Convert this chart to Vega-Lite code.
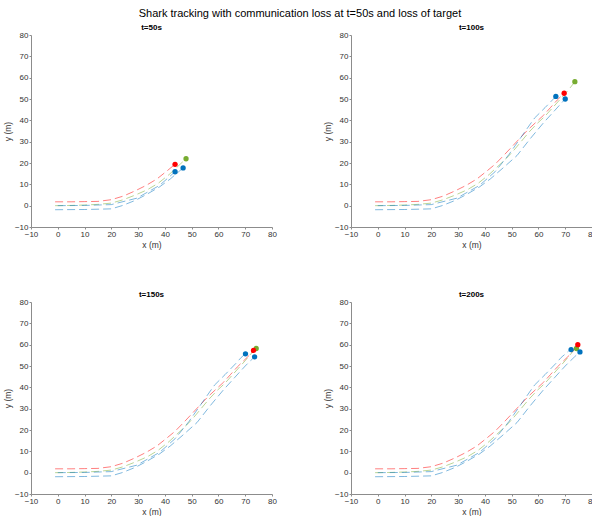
{
  "$schema": "https://vega.github.io/schema/vega-lite/v6.json",
  "padding": {"left": 3, "top": 8, "right": 0, "bottom": 0},
  "title": {
    "text": "Shark tracking with communication loss at t=50s and loss of target",
    "fontSize": 11,
    "fontWeight": "normal",
    "font": "Liberation Sans",
    "color": "#000000",
    "anchor": "middle",
    "frame": "bounds",
    "offset": 5
  },
  "datasets": {
    "tracks": [
      {"series": "target", "t": 0, "x": -1, "y": 0.0},
      {"series": "target", "t": 5, "x": 5, "y": 0.1},
      {"series": "target", "t": 10, "x": 10, "y": 0.3},
      {"series": "target", "t": 15, "x": 15, "y": 0.6},
      {"series": "target", "t": 20, "x": 20, "y": 1.2},
      {"series": "target", "t": 25, "x": 24.5, "y": 2.8},
      {"series": "target", "t": 30, "x": 29, "y": 5.0},
      {"series": "target", "t": 35, "x": 33.5, "y": 7.5},
      {"series": "target", "t": 40, "x": 37.5, "y": 10.5},
      {"series": "target", "t": 45, "x": 41.5, "y": 14.5},
      {"series": "target", "t": 50, "x": 47.9, "y": 22.0},
      {"series": "target", "t": 55, "x": 50.5, "y": 25.5},
      {"series": "target", "t": 60, "x": 53.5, "y": 30.0},
      {"series": "target", "t": 65, "x": 56.5, "y": 34.5},
      {"series": "target", "t": 70, "x": 59.5, "y": 38.5},
      {"series": "target", "t": 75, "x": 62.5, "y": 42.0},
      {"series": "target", "t": 80, "x": 65, "y": 45.5},
      {"series": "target", "t": 85, "x": 67.5, "y": 49.0},
      {"series": "target", "t": 90, "x": 70, "y": 52.5},
      {"series": "target", "t": 95, "x": 72, "y": 55.5},
      {"series": "target", "t": 100, "x": 73.6, "y": 58.1},
      {"series": "target", "t": 150, "x": 74.1, "y": 58.2},
      {"series": "target", "t": 200, "x": 74.2, "y": 58.2},

      {"series": "estimate", "t": 0, "x": -1, "y": 1.8},
      {"series": "estimate", "t": 5, "x": 5, "y": 1.8},
      {"series": "estimate", "t": 10, "x": 10, "y": 1.9},
      {"series": "estimate", "t": 15, "x": 15, "y": 2.0},
      {"series": "estimate", "t": 20, "x": 20, "y": 2.8},
      {"series": "estimate", "t": 25, "x": 24.5, "y": 4.5},
      {"series": "estimate", "t": 30, "x": 29, "y": 7.0},
      {"series": "estimate", "t": 35, "x": 33, "y": 9.5},
      {"series": "estimate", "t": 40, "x": 37, "y": 12.5},
      {"series": "estimate", "t": 45, "x": 40.5, "y": 16.0},
      {"series": "estimate", "t": 50, "x": 43.8, "y": 19.4},
      {"series": "estimate", "t": 55, "x": 47, "y": 23.5},
      {"series": "estimate", "t": 60, "x": 50, "y": 27.5},
      {"series": "estimate", "t": 65, "x": 53, "y": 31.5},
      {"series": "estimate", "t": 70, "x": 56, "y": 35.5},
      {"series": "estimate", "t": 75, "x": 59, "y": 39.0},
      {"series": "estimate", "t": 80, "x": 62, "y": 42.5},
      {"series": "estimate", "t": 85, "x": 64.5, "y": 46.0},
      {"series": "estimate", "t": 90, "x": 67, "y": 49.5},
      {"series": "estimate", "t": 100, "x": 69.6, "y": 52.7},
      {"series": "estimate", "t": 125, "x": 71.5, "y": 55.0},
      {"series": "estimate", "t": 150, "x": 73.1, "y": 57.3},
      {"series": "estimate", "t": 175, "x": 74, "y": 59.0},
      {"series": "estimate", "t": 200, "x": 74.7, "y": 60.0},

      {"series": "tracker1", "t": 0, "x": 0, "y": 0.0},
      {"series": "tracker1", "t": 10, "x": 10, "y": 0.1},
      {"series": "tracker1", "t": 20, "x": 20, "y": 0.5},
      {"series": "tracker1", "t": 30, "x": 29.5, "y": 3.5},
      {"series": "tracker1", "t": 40, "x": 38, "y": 9.5},
      {"series": "tracker1", "t": 50, "x": 43.8, "y": 15.9},
      {"series": "tracker1", "t": 60, "x": 49, "y": 24.0},
      {"series": "tracker1", "t": 70, "x": 54, "y": 33.0},
      {"series": "tracker1", "t": 80, "x": 58.5, "y": 41.0},
      {"series": "tracker1", "t": 90, "x": 62.5, "y": 46.0},
      {"series": "tracker1", "t": 100, "x": 66.5, "y": 51.2},
      {"series": "tracker1", "t": 125, "x": 68.5, "y": 54.0},
      {"series": "tracker1", "t": 150, "x": 70.1, "y": 55.7},
      {"series": "tracker1", "t": 175, "x": 71.2, "y": 57.0},
      {"series": "tracker1", "t": 200, "x": 72.2, "y": 57.7},

      {"series": "tracker2", "t": 0, "x": -1, "y": -1.9},
      {"series": "tracker2", "t": 10, "x": 10, "y": -1.8},
      {"series": "tracker2", "t": 20, "x": 20, "y": -1.5},
      {"series": "tracker2", "t": 25, "x": 24, "y": 0.0},
      {"series": "tracker2", "t": 30, "x": 29, "y": 2.5},
      {"series": "tracker2", "t": 35, "x": 33.5, "y": 5.5},
      {"series": "tracker2", "t": 40, "x": 38, "y": 8.8},
      {"series": "tracker2", "t": 45, "x": 42, "y": 12.5},
      {"series": "tracker2", "t": 50, "x": 46.8, "y": 17.7},
      {"series": "tracker2", "t": 60, "x": 52, "y": 23.5},
      {"series": "tracker2", "t": 70, "x": 57, "y": 31.5},
      {"series": "tracker2", "t": 80, "x": 62, "y": 39.0},
      {"series": "tracker2", "t": 90, "x": 66, "y": 44.5},
      {"series": "tracker2", "t": 100, "x": 70, "y": 50.0},
      {"series": "tracker2", "t": 125, "x": 72, "y": 52.5},
      {"series": "tracker2", "t": 150, "x": 73.5, "y": 54.3},
      {"series": "tracker2", "t": 175, "x": 74.5, "y": 55.5},
      {"series": "tracker2", "t": 200, "x": 75.5, "y": 56.6}
    ]
  },
  "data": {"name": "tracks"},
  "config": {
    "font": "Liberation Sans",
    "view": {"stroke": null},
    "title": {"fontSize": 8, "fontWeight": "bold", "color": "#000000", "offset": -1, "frame": "group"},
    "axis": {
      "grid": false,
      "domainColor": "#8c8c8c",
      "tickColor": "#8c8c8c",
      "tickSize": 2,
      "labelPadding": 1,
      "labelFontSize": 8,
      "labelColor": "#333333",
      "labelOverlap": false,
      "labelFlush": false,
      "labelBound": false,
      "titleFontSize": 8.5,
      "titleFontWeight": "normal",
      "titleColor": "#333333",
      "titlePadding": 2
    }
  },
  "spacing": 42,
  "vconcat": [
    {
      "spacing": 46,
      "hconcat": [
        {
          "width": 241, "height": 192,
          "title": "t=50s",
          "transform": [{"filter": "datum.t <= 50"}],
          "encoding": {
            "x": {"field": "x", "type": "quantitative", "scale": {"domain": [-10, 80], "nice": false}, "axis": {"title": "x (m)", "tickCount": 9, "labelOverlap": false}},
            "y": {"field": "y", "type": "quantitative", "scale": {"domain": [-10, 80], "nice": false}, "axis": {"title": "y (m)", "tickCount": 9, "labelOverlap": false}},
            "color": {"field": "series", "type": "nominal", "legend": null, "scale": {"domain": ["target", "estimate", "tracker1", "tracker2"], "range": ["#77AC30", "#FF0000", "#0072BD", "#0072BD"]}}
          },
          "layer": [
            {
              "mark": {"type": "line", "strokeDash": [8, 4], "strokeWidth": 1, "opacity": 0.5},
              "encoding": {"order": {"field": "t", "type": "quantitative"}}
            },
            {
              "transform": [{"filter": "datum.t == 50"}],
              "mark": {"type": "circle", "size": 28, "opacity": 1}
            }
          ]
        },
        {
          "width": 241, "height": 192,
          "title": "t=100s",
          "transform": [{"filter": "datum.t <= 100"}],
          "encoding": {
            "x": {"field": "x", "type": "quantitative", "scale": {"domain": [-10, 80], "nice": false}, "axis": {"title": "x (m)", "tickCount": 9, "labelOverlap": false}},
            "y": {"field": "y", "type": "quantitative", "scale": {"domain": [-10, 80], "nice": false}, "axis": {"title": "y (m)", "tickCount": 9, "labelOverlap": false}},
            "color": {"field": "series", "type": "nominal", "legend": null, "scale": {"domain": ["target", "estimate", "tracker1", "tracker2"], "range": ["#77AC30", "#FF0000", "#0072BD", "#0072BD"]}}
          },
          "layer": [
            {
              "mark": {"type": "line", "strokeDash": [8, 4], "strokeWidth": 1, "opacity": 0.5},
              "encoding": {"order": {"field": "t", "type": "quantitative"}}
            },
            {
              "transform": [{"filter": "datum.t == 100"}],
              "mark": {"type": "circle", "size": 28, "opacity": 1}
            }
          ]
        }
      ]
    },
    {
      "spacing": 46,
      "hconcat": [
        {
          "width": 241, "height": 192,
          "title": "t=150s",
          "transform": [{"filter": "datum.t <= 150"}],
          "encoding": {
            "x": {"field": "x", "type": "quantitative", "scale": {"domain": [-10, 80], "nice": false}, "axis": {"title": "x (m)", "tickCount": 9, "labelOverlap": false}},
            "y": {"field": "y", "type": "quantitative", "scale": {"domain": [-10, 80], "nice": false}, "axis": {"title": "y (m)", "tickCount": 9, "labelOverlap": false}},
            "color": {"field": "series", "type": "nominal", "legend": null, "scale": {"domain": ["target", "estimate", "tracker1", "tracker2"], "range": ["#77AC30", "#FF0000", "#0072BD", "#0072BD"]}}
          },
          "layer": [
            {
              "mark": {"type": "line", "strokeDash": [8, 4], "strokeWidth": 1, "opacity": 0.5},
              "encoding": {"order": {"field": "t", "type": "quantitative"}}
            },
            {
              "transform": [{"filter": "datum.t == 150"}],
              "mark": {"type": "circle", "size": 28, "opacity": 1}
            }
          ]
        },
        {
          "width": 241, "height": 192,
          "title": "t=200s",
          "transform": [{"filter": "datum.t <= 200"}],
          "encoding": {
            "x": {"field": "x", "type": "quantitative", "scale": {"domain": [-10, 80], "nice": false}, "axis": {"title": "x (m)", "tickCount": 9, "labelOverlap": false}},
            "y": {"field": "y", "type": "quantitative", "scale": {"domain": [-10, 80], "nice": false}, "axis": {"title": "y (m)", "tickCount": 9, "labelOverlap": false}},
            "color": {"field": "series", "type": "nominal", "legend": null, "scale": {"domain": ["target", "estimate", "tracker1", "tracker2"], "range": ["#77AC30", "#FF0000", "#0072BD", "#0072BD"]}}
          },
          "layer": [
            {
              "mark": {"type": "line", "strokeDash": [8, 4], "strokeWidth": 1, "opacity": 0.5},
              "encoding": {"order": {"field": "t", "type": "quantitative"}}
            },
            {
              "transform": [{"filter": "datum.t == 200"}],
              "mark": {"type": "circle", "size": 28, "opacity": 1}
            }
          ]
        }
      ]
    }
  ]
}
